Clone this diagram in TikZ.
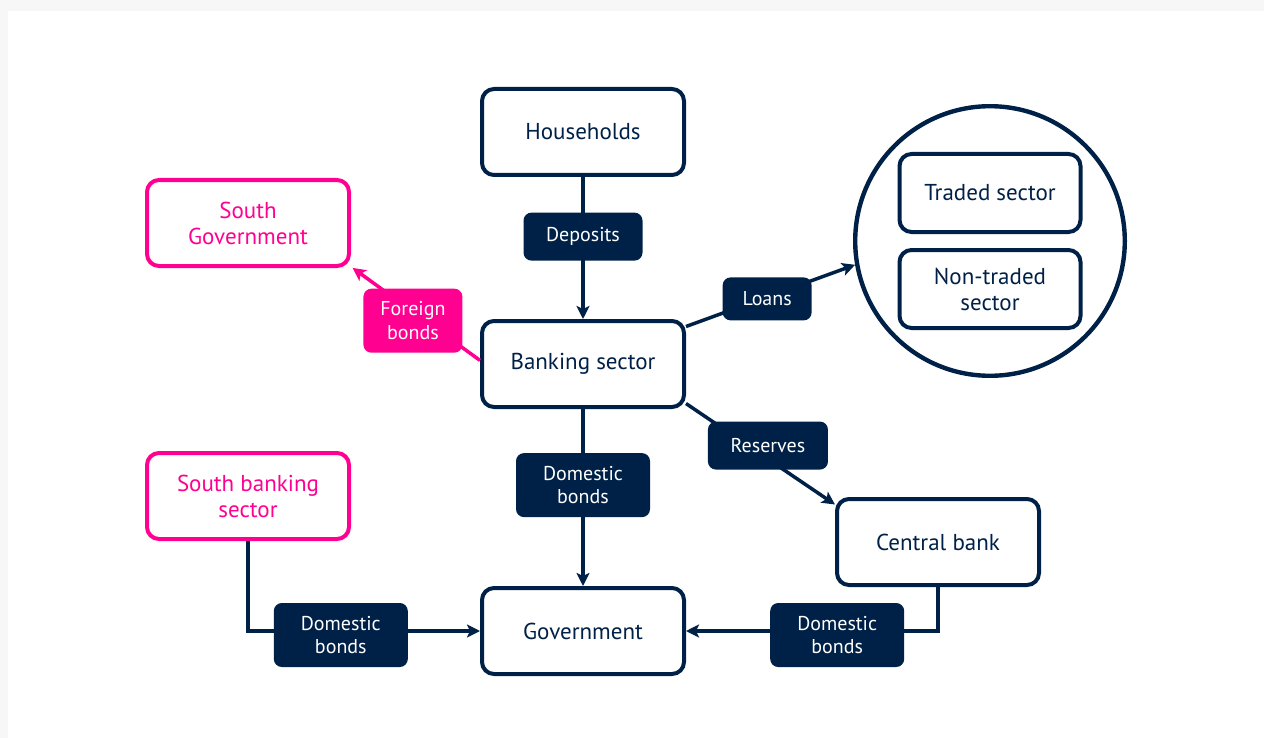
\documentclass[tikz,border=0pt]{standalone}
\usepackage{fontspec}
\setmainfont{PT Sans}
\usetikzlibrary{positioning, arrows.meta}

\definecolor{navy}{RGB}{0,33,71}
\definecolor{hotpink}{RGB}{255,0,144}
\definecolor{bggray}{RGB}{247,247,247}

\begin{document}
\begin{tikzpicture}[x=0.5pt, y=-0.5pt, node distance=116pt,
    >={Stealth[length=6.5pt, width=6.5pt, inset=1.5pt]},
    sector/.style={draw=navy, text=navy, fill=white, line width=2pt, rounded corners=6pt,
        minimum width=101pt, minimum height=43pt, align=center,
        font=\fontsize{11.5}{13}\selectfont},
    south/.style={sector, draw=hotpink, text=hotpink},
    sub/.style={sector, minimum width=90.5pt, minimum height=39pt},
    firm/.style={circle, draw=navy, line width=2.2pt, minimum size=134.8pt},
    flow/.style={fill=navy, text=white, rounded corners=4pt, inner xsep=4pt, inner ysep=6.5pt,
        minimum height=24pt, align=center, font=\fontsize{10}{11.8}\selectfont},
    link/.style={draw=navy, line width=1.75pt},
  ]
        % page
        \fill[bggray] (0,0) rectangle (1264,738);
        \fill[white] (8,11) rectangle (1264,738);

        \node[sector] (hh) at (583,132) {Households};
        \node[sector, below of=hh] (bank) {Banking sector};
        \node[sector, below of=bank, node distance=133.5pt] (gov) {Government};
        \node[south] (sgov) at (248,223) {South\\Government};
        \node[south] (sbank) at (248,496) {South banking\\sector};
        \node[sector] (cb) at (938,542) {Central bank};

        % firms
        \node[firm] (firms) at (990,241) {};
        \node[sub] (traded) at (990,193) {Traded sector};
        \node[sub] (nontraded) at (990,289) {Non-traded\\sector};

        \draw[link, ->] (hh) -- node[flow, pos=.42, minimum width=59.5pt] (deposits) {Deposits} (bank);
        \draw[link, ->] (bank) -- node[flow, pos=.43, minimum width=67pt] (bonds) {Domestic\\bonds} (gov);
        \draw[link, ->, draw=hotpink, shorten >=1pt] (bank.178) -- node[flow, fill=hotpink, pos=.52, yshift=-4.5pt, minimum width=49.5pt] (foreign) {Foreign\\bonds} (sgov.-23);
        \draw[link, ->] (bank.20) -- node[flow, pos=.48, yshift=-1pt, minimum width=44.5pt, minimum height=21.5pt] (loans) {Loans} (firms.190);
        \draw[link, ->] (bank.-21) -- node[flow, pos=.55, yshift=6.75pt, minimum width=60pt] (reserves) {Reserves} (cb.160);
        \draw[link, ->] (sbank) |- node[flow, pos=.7, yshift=-2pt, minimum width=67pt] (southbonds) {Domestic\\bonds} (gov);
        \draw[link, ->] (cb) |- node[flow, pos=.7, yshift=-2pt, minimum width=67pt] (cbbonds) {Domestic\\bonds} (gov);
      \end{tikzpicture}
\end{document}
